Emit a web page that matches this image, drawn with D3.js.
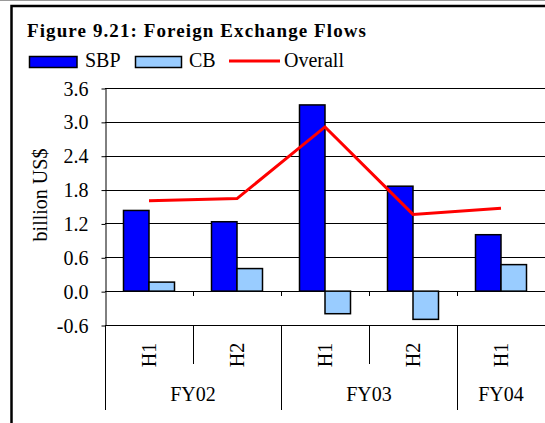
<!DOCTYPE html>
<html><head><meta charset="utf-8">
<script src="https://cdn.jsdelivr.net/npm/d3@7/dist/d3.min.js"></script>
<style>
html,body{margin:0;padding:0;background:#fff;}
svg text{font-family:"Liberation Serif","Times New Roman",Times,serif !important;}
</style></head>
<body><svg id="c" width="545" height="423" font-family="Liberation Serif"></svg>
<script>
const categories = ["H1","H2","H1","H2","H1"];
const years = ["FY02","FY03","FY04"];
const yearSpans = [2,2,1];
const sbp = [1.43, 1.23, 3.30, 1.86, 1.00];
const cb = [0.16, 0.40, -0.40, -0.50, 0.47];
const overall = [1.60, 1.64, 2.91, 1.36, 1.47];
const yTicks = [-0.6, 0.0, 0.6, 1.2, 1.8, 2.4, 3.0, 3.6];
const seriesNames = ["SBP","CB","Overall"];
const colors = {SBP:"#0000ff", CB:"#99ccff", Overall:"#ff0000"};
const FONT = "Liberation Serif";

const svg = d3.select("#c");
const L = 105, R = 545, T = 88, B = 325;
const idx = d3.range(categories.length);
const x = d3.scaleBand().domain(idx).range([L, R]).padding(0);
const y = d3.scaleLinear().domain([-0.6, 3.6]).range([B, T]);
const bw = x.bandwidth();
const inner = d3.scaleBand().domain(["SBP","CB"]).range([18.5, bw - 18.5]);

// outer frame
svg.append("line").attr("x1",0).attr("x2",545).attr("y1",0.5).attr("y2",0.5).attr("stroke","#999").attr("stroke-width",1);
svg.append("rect").attr("x",11.5).attr("y",6).attr("width",600).attr("height",500)
  .attr("fill","none").attr("stroke","#000").attr("stroke-width",2.5);

// title
svg.append("text").attr("x",27).attr("y",37).attr("font-size",19).attr("font-weight","bold").attr("font-family",FONT)
  .attr("textLength",339).attr("lengthAdjust","spacing")
  .text("Figure 9.21: Foreign Exchange Flows");

// legend
const lg = svg.append("g").attr("font-family",FONT).attr("font-size",20);
lg.append("rect").attr("x",29.5).attr("y",56.5).attr("width",47.5).attr("height",11).attr("fill",colors.SBP).attr("stroke","#000").attr("stroke-width",1.5);
lg.append("text").attr("x",85).attr("y",67).text(seriesNames[0]);
lg.append("rect").attr("x",135.5).attr("y",56.5).attr("width",46).attr("height",11).attr("fill",colors.CB).attr("stroke","#000").attr("stroke-width",1.5);
lg.append("text").attr("x",189).attr("y",67).text(seriesNames[1]);
lg.append("line").attr("x1",229).attr("x2",280).attr("y1",61).attr("y2",61).attr("stroke",colors.Overall).attr("stroke-width",3);
lg.append("text").attr("x",284).attr("y",67).text(seriesNames[2]);

// gridlines
svg.append("g").selectAll("line").data(yTicks).join("line")
  .attr("x1",L).attr("x2",R).attr("y1",d=>Math.round(y(d))+0.5).attr("y2",d=>Math.round(y(d))+0.5)
  .attr("stroke","#000").attr("stroke-width",1);

// y axis
const yAxis = d3.axisLeft(y).tickValues(yTicks).tickSizeOuter(0).tickSizeInner(4).tickPadding(13)
  .tickFormat(d=> d<0 ? "-" + Math.abs(d).toFixed(1) : d.toFixed(1));
const yg = svg.append("g").attr("transform",`translate(${L+0.5},0.5)`).call(yAxis)
  .attr("font-family",FONT).attr("font-size",20);
yg.select(".domain").attr("stroke","#000");
yg.selectAll(".tick text").attr("fill","#000").attr("dy","0.33em");
yg.selectAll(".tick line").attr("stroke","#000");

// y title
svg.append("text").attr("transform","translate(47,195) rotate(-90)").attr("text-anchor","middle")
  .attr("font-family",FONT).attr("font-size",20).text("billion US$");

// zero-line ticks
svg.append("g").selectAll("line").data(d3.range(1,categories.length)).join("line")
  .attr("x1",i=>Math.round(x(i))+0.5).attr("x2",i=>Math.round(x(i))+0.5)
  .attr("y1",Math.round(y(0))).attr("y2",Math.round(y(0))+5).attr("stroke","#000");

// bars
const bars = svg.append("g");
bars.selectAll("rect.sbp").data(idx).join("rect").attr("class","sbp")
  .attr("x",i=>x(i)+inner("SBP")).attr("width",inner.bandwidth())
  .attr("y",i=>y(Math.max(0,sbp[i]))).attr("height",i=>Math.abs(y(sbp[i])-y(0)))
  .attr("fill",colors.SBP).attr("stroke","#000").attr("stroke-width",1.5);
bars.selectAll("rect.cb").data(idx).join("rect").attr("class","cb")
  .attr("x",i=>x(i)+inner("CB")).attr("width",inner.bandwidth())
  .attr("y",i=>y(Math.max(0,cb[i]))).attr("height",i=>Math.abs(y(cb[i])-y(0)))
  .attr("fill",colors.CB).attr("stroke","#000").attr("stroke-width",1.5);

// overall line
svg.append("path").datum(idx)
  .attr("d",d3.line().x(i=>x(i)+bw/2).y(i=>y(overall[i])))
  .attr("fill","none").attr("stroke",colors.Overall).attr("stroke-width",3);

// category axis
const cg = svg.append("g").attr("font-family",FONT).attr("font-size",20);
cg.selectAll("text.h").data(idx).join("text").attr("class","h")
  .attr("transform",i=>`translate(${x(i)+bw/2+7},355) rotate(-90)`).attr("text-anchor","middle")
  .text(i=>categories[i]);
let pos = 0;
const outerIdx = [0];
yearSpans.forEach(s=>{pos+=s; outerIdx.push(pos);});
idx.concat([categories.length]).forEach(i=>{
  const isOuter = outerIdx.includes(i);
  const xx = i < categories.length ? x(i) : R;
  cg.append("line").attr("x1",Math.round(xx)+0.5).attr("x2",Math.round(xx)+0.5)
    .attr("y1",B).attr("y2",isOuter?410:364).attr("stroke","#000").attr("stroke-width",1);
});
let start = 0;
years.forEach((yr,k)=>{
  const a = x(start), b = start+yearSpans[k] < categories.length ? x(start+yearSpans[k]) : R;
  cg.append("text").attr("x",(a+b)/2).attr("y",401).attr("text-anchor","middle").text(yr);
  start += yearSpans[k];
});
</script></body></html>
